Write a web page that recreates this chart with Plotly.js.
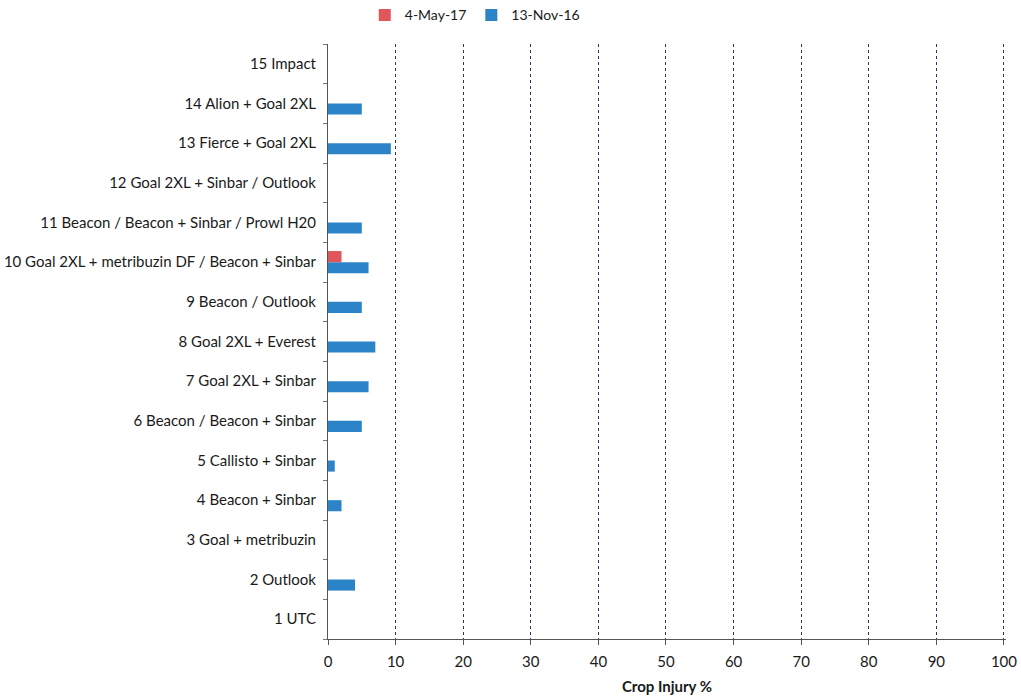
<!DOCTYPE html>
<html>
<head>
<meta charset="utf-8">
<script src="https://cdn.plot.ly/plotly-3.0.1.min.js"></script>
<style>html,body{margin:0;padding:0;background:#fff;}#chart{width:1021px;height:698px;}</style>
</head>
<body>
<div id="chart"></div>
<script>
const categories = [
  "1 UTC",
  "2 Outlook",
  "3 Goal + metribuzin",
  "4 Beacon + Sinbar",
  "5 Callisto + Sinbar",
  "6 Beacon / Beacon + Sinbar",
  "7 Goal 2XL + Sinbar",
  "8 Goal 2XL + Everest",
  "9 Beacon / Outlook",
  "10 Goal 2XL + metribuzin DF / Beacon + Sinbar",
  "11 Beacon / Beacon + Sinbar / Prowl H20",
  "12 Goal 2XL + Sinbar / Outlook",
  "13 Fierce + Goal 2XL",
  "14 Alion + Goal 2XL",
  "15 Impact"
];
const may17 = [0, 0, 0, 0, 0, 0, 0, 0, 0, 2, 0, 0, 0, 0, 0];
const nov16 = [0, 4, 0, 2, 1, 5, 6, 7, 5, 6, 5, 0, 9.3, 5, 0];
const xTicks = [0, 10, 20, 30, 40, 50, 60, 70, 80, 90, 100];

const font = "Lato, 'Open Sans', sans-serif";
const data = [
  {type: "bar", orientation: "h", name: "13-Nov-16", y: categories, x: nov16,
   marker: {color: "#2b84c8"}},
  {type: "bar", orientation: "h", name: "4-May-17", y: categories, x: may17,
   marker: {color: "#e0575b"}}
];
const layout = {
  width: 1021, height: 698,
  margin: {l: 328, r: 15, t: 44, b: 59, autoexpand: false},
  paper_bgcolor: "#fff", plot_bgcolor: "#fff",
  font: {family: font, size: 15, color: "#1a1a1a"},
  barmode: "group", bargap: 0.44, bargroupgap: 0,
  showlegend: true,
  legend: {orientation: "h", xref: "container", yref: "container",
           x: 0.465, xanchor: "center", y: 0.978, yanchor: "middle",
           traceorder: "reversed", font: {size: 14, color: "#1a1a1a"}, itemwidth: 30},
  xaxis: {
    range: [0, 100.3], tickvals: xTicks, ticktext: xTicks.map(String),
    showgrid: true, gridcolor: "#2e3466", griddash: "dot", gridwidth: 1,
    showline: true, linecolor: "#555", linewidth: 1,
    ticks: "outside", ticklen: 5, tickcolor: "#555",
    zeroline: false, tickfont: {size: 15}, ticklabelstandoff: 4,
    title: {text: "<b>Crop Injury %</b>", font: {size: 15}, standoff: 12}
  },
  yaxis: {
    type: "category", categoryorder: "array", categoryarray: categories,
    showline: true, linecolor: "#555", linewidth: 1,
    ticks: "outside", tickson: "boundaries", ticklen: 4, tickcolor: "#777",
    showgrid: false, tickfont: {size: 15}, ticklabelstandoff: 8, automargin: false
  }
};
Plotly.newPlot("chart", data, layout, {displayModeBar: false, staticPlot: true});
</script>
</body>
</html>
